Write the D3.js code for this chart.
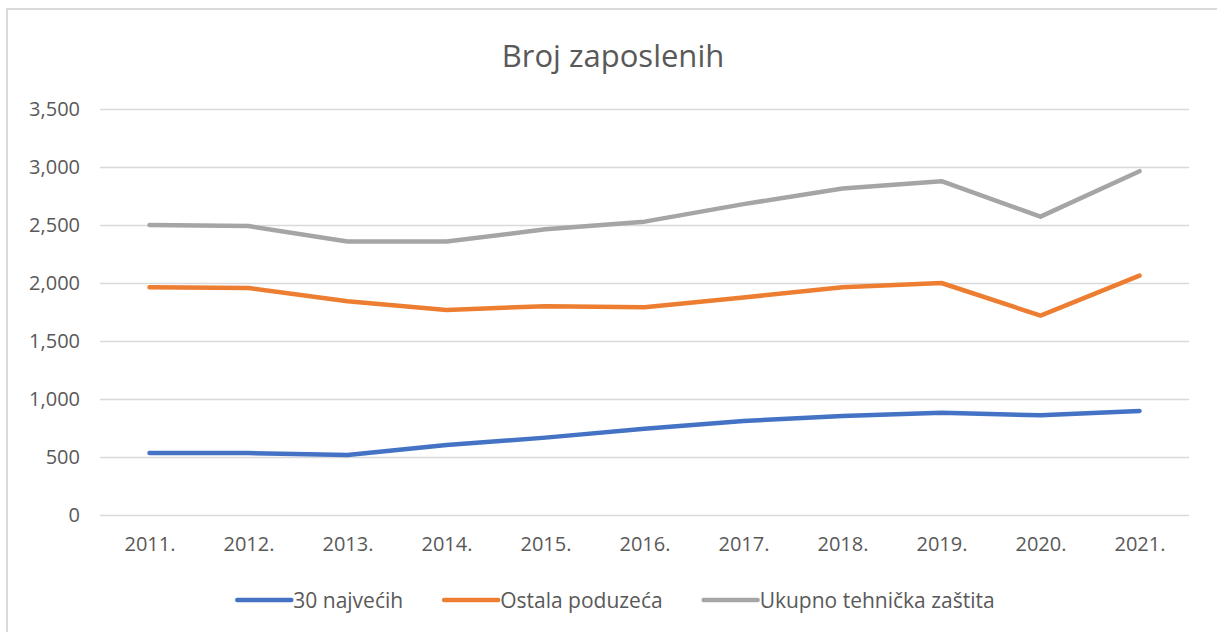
<!DOCTYPE html>
<html>
<head>
<meta charset="utf-8">
<script src="https://cdn.jsdelivr.net/npm/d3@7"></script>
<style>
  body { margin: 0; background: #fff; }
  text { font-family: "Open Sans", sans-serif; fill: #595959; }
</style>
</head>
<body>
<div id="viz"></div>
<script>
const years = ["2011.", "2012.", "2013.", "2014.", "2015.", "2016.", "2017.", "2018.", "2019.", "2020.", "2021."];
const najvecih = [534, 534, 517, 603, 667, 744, 810, 853, 882, 859, 897];
const ostala = [1963, 1957, 1842, 1768, 1800, 1791, 1875, 1963, 2000, 1719, 2063];
const ukupno = [2500, 2491, 2357, 2357, 2463, 2529, 2680, 2815, 2878, 2572, 2964];
const yTicks = [0, 500, 1000, 1500, 2000, 2500, 3000, 3500];

const series = [
    { name: "30 najvećih", values: najvecih, color: "#4472C4" },
    { name: "Ostala poduzeća", values: ostala, color: "#ED7D31" },
    { name: "Ukupno tehnička zaštita", values: ukupno, color: "#A5A5A5" }
];

width = 1217;
height = 632;
marginLeft = 100;
marginRight = 28;
const plotTop = 109, plotBottom = 515;

const svg = d3.select("#viz")
    .append("svg")
    .attr("width", width)
    .attr("height", height);

// chart frame (only top/left visible in the screenshot)
svg.append("rect")
    .attr("x", 7)
    .attr("y", 9)
    .attr("width", width + 20)
    .attr("height", height + 20)
    .attr("fill", "none")
    .attr("stroke", "#d9d9d9")
    .attr("stroke-width", 2);

const x = d3.scalePoint()
    .domain(years)
    .range([marginLeft, width - marginRight])
    .padding(0.5);

const y = d3.scaleLinear()
    .domain([0, 3500])
    .range([plotBottom, plotTop]);

// gridlines + y labels
const yAxis = svg.append("g")
    .attr("transform", "translate(" + marginLeft + ",0)")
    .call(d3.axisLeft(y)
        .tickValues(yTicks)
        .tickSize(-(width - marginRight - marginLeft))
        .tickPadding(20)
        .tickFormat(d3.format(",")));
yAxis.select(".domain").remove();
yAxis.selectAll("line").attr("stroke", "#d9d9d9").attr("stroke-width", 1.5);
yAxis.selectAll("text")
    .attr("font-size", 20)
    .attr("font-family", "Open Sans")
    .attr("fill", "#595959");

// x labels
const xAxis = svg.append("g")
    .attr("transform", "translate(0," + plotBottom + ")")
    .call(d3.axisBottom(x).tickSize(0).tickPadding(22));
xAxis.select(".domain").remove();
xAxis.selectAll("text")
    .attr("font-size", 20)
    .attr("font-family", "Open Sans")
    .attr("fill", "#595959");

// lines
const line = d3.line()
    .x((d, i) => x(years[i]))
    .y(d => y(d));

svg.append("g")
    .selectAll("path")
    .data(series)
    .enter()
    .append("path")
        .attr("d", d => line(d.values))
        .attr("fill", "none")
        .attr("stroke", d => d.color)
        .attr("stroke-width", 4.5)
        .attr("stroke-linejoin", "round")
        .attr("stroke-linecap", "round");

// title
svg.append("text")
    .attr("x", 613)
    .attr("y", 67)
    .attr("text-anchor", "middle")
    .attr("font-size", 31)
    .text("Broj zaposlenih");

// legend
const legend = svg.append("g");
const items = legend.selectAll("g")
    .data(series)
    .enter()
    .append("g");
items.append("line")
    .attr("x1", 0).attr("x2", 54)
    .attr("y1", 0).attr("y2", 0)
    .attr("stroke", d => d.color)
    .attr("stroke-width", 4.5)
    .attr("stroke-linecap", "round");
items.append("text")
    .attr("x", 56)
    .attr("y", 7.5)
    .attr("font-size", 21)
    .text(d => d.name);

let pos = 0;
items.each(function() {
    const w = 56 + d3.select(this).select("text").node().getComputedTextLength();
    d3.select(this).attr("transform", "translate(" + pos + ",0)");
    pos += w + 41;
});
const legendWidth = pos - 41;
legend.attr("transform", "translate(" + (616 - legendWidth / 2) + ",600)");
</script>
</body>
</html>
